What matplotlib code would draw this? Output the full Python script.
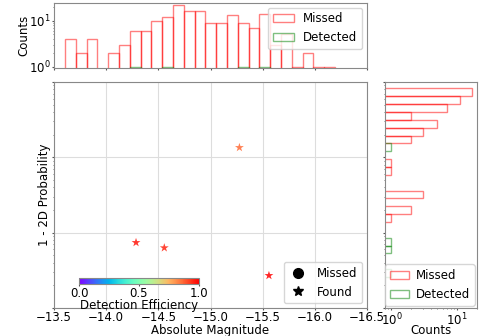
import numpy as np
import matplotlib
matplotlib.use("Agg")
import matplotlib.pyplot as plt
from matplotlib.lines import Line2D

# found (detected) events
found_mag = [-14.286, -14.557, -15.56, -15.277]
found_prob = [0.0074, 0.0063, 0.0027, 0.135]
found_eff = [0.97, 0.95, 1.0, 0.86]

# magnitude histogram (top), 25 bins, listed from -13.6 towards -16.2
mag_lo, mag_hi, n_mag_bins = -16.194, -13.6055, 25
mag_missed = [4, 2, 4, 0, 2, 3, 6, 6, 10, 12, 22, 16, 16, 9, 9, 13, 9, 7, 14, 3, 5, 1, 2, 1, 1]
mag_detected = [0, 0, 0, 0, 0, 0, 1, 0, 0, 1, 0, 0, 0, 0, 0, 0, 1, 0, 1, 0, 0, 0, 0, 0, 0]

# probability histogram (right), 24 log bins, listed from top to bottom
prob_lo, prob_hi, n_prob_bins = 10 ** -2.589, 10 ** -0.084, 24
prob_missed = [17, 11, 7, 2, 5, 3, 2, 0, 0, 1, 1, 0, 0, 3, 0, 2, 1, 0, 0, 0, 0, 0, 0, 0]
prob_detected = [0, 0, 0, 0, 0, 0, 0, 1, 0, 0, 0, 0, 0, 0, 0, 0, 0, 0, 0, 1, 1, 0, 0, 1]

plt.rcParams["font.size"] = 8.5
plt.rcParams["xtick.major.size"] = 1.2
plt.rcParams["ytick.major.size"] = 1.2
plt.rcParams["xtick.minor.size"] = 0.7
plt.rcParams["ytick.minor.size"] = 0.7
plt.rcParams["xtick.major.pad"] = 1.2
plt.rcParams["ytick.major.pad"] = 1.2
plt.rcParams["xtick.color"] = "#555555"
plt.rcParams["ytick.color"] = "#555555"
plt.rcParams["xtick.labelcolor"] = "black"
plt.rcParams["ytick.labelcolor"] = "black"

fig = plt.figure(figsize=(4.84, 3.36), dpi=100)
ax = fig.add_axes([0.1116, 0.0833, 0.6467, 0.6726])
ax_top = fig.add_axes([0.1116, 0.7976, 0.6467, 0.1935], sharex=ax)
ax_right = fig.add_axes([0.7955, 0.0833, 0.19, 0.6726], sharey=ax)

# main scatter
cmap = plt.get_cmap("rainbow")
ax.scatter(found_mag, found_prob, c=found_eff, cmap="rainbow", vmin=0, vmax=1,
           marker="*", s=45, alpha=0.85, edgecolors="none")
ax.set_yscale("log")
ax.set_ylim(1e-3, 1)
ax.set_xlim(-13.5, -16.5)
ax.set_xticks(np.arange(-13.5, -16.51, -0.5))
ax.grid(True, color="#dddddd", lw=0.8)
ax.tick_params(axis="y", labelleft=False)
ax.set_xlabel("Absolute Magnitude", labelpad=0)
ax.set_ylabel("1 - 2D Probability", labelpad=-2)
for s in ax.spines.values():
    s.set_color("#888888")

handles = [Line2D([], [], marker="o", color="k", ls="none", markersize=7),
           Line2D([], [], marker="*", color="k", ls="none", markersize=7)]
ax.legend(handles, ["Missed", "Found"], loc="lower right",
          handlelength=1.6, borderaxespad=0.4)

# colorbar inside main axes
cax = ax.inset_axes([0.08, 0.106, 0.383, 0.028])
sm = plt.cm.ScalarMappable(cmap=cmap, norm=plt.Normalize(0, 1))
cb = fig.colorbar(sm, cax=cax, orientation="horizontal")
cb.set_ticks([0.0, 0.5, 1.0])
cb.ax.tick_params(length=1.2, pad=1)
cb.set_label("Detection Efficiency", labelpad=-1)
cb.outline.set_edgecolor("#888888")

# top histogram
mag_edges = np.linspace(mag_lo, mag_hi, n_mag_bins + 1)
mag_centers = (mag_edges[:-1] + mag_edges[1:]) / 2
ax_top.hist(mag_centers, bins=mag_edges, weights=mag_missed[::-1], fill=False,
            edgecolor="red", alpha=0.5, log=True, label="Missed")
ax_top.hist(mag_centers, bins=mag_edges, weights=mag_detected[::-1], fill=False,
            edgecolor="green", alpha=0.5, log=True, label="Detected")
ax_top.set_yscale("log")
ax_top.set_ylim(0.93, 24)
ax_top.set_ylabel("Counts", labelpad=-1)
ax_top.tick_params(axis="x", labelbottom=False)
ax_top.legend(loc="upper right", handlelength=1.8, borderaxespad=0.4)
for s in ax_top.spines.values():
    s.set_color("#888888")

# right histogram
prob_edges = np.logspace(np.log10(prob_lo), np.log10(prob_hi), n_prob_bins + 1)
prob_centers = np.sqrt(prob_edges[:-1] * prob_edges[1:])
ax_right.hist(prob_centers, bins=prob_edges, weights=prob_missed[::-1], fill=False,
              edgecolor="red", alpha=0.5, orientation="horizontal", label="Missed")
ax_right.hist(prob_centers, bins=prob_edges, weights=prob_detected[::-1], fill=False,
              edgecolor="green", alpha=0.5, orientation="horizontal", label="Detected")
ax_right.set_xscale("log")
ax_right.set_xlim(0.8, 20)
ax_right.set_xlabel("Counts", labelpad=-3)
ax_right.tick_params(axis="y", labelleft=False)
ax_right.legend(loc="lower right", handlelength=1.6,
                borderaxespad=0.2, handletextpad=0.6)
for s in ax_right.spines.values():
    s.set_color("#888888")

fig.savefig("out.png", dpi=100)
